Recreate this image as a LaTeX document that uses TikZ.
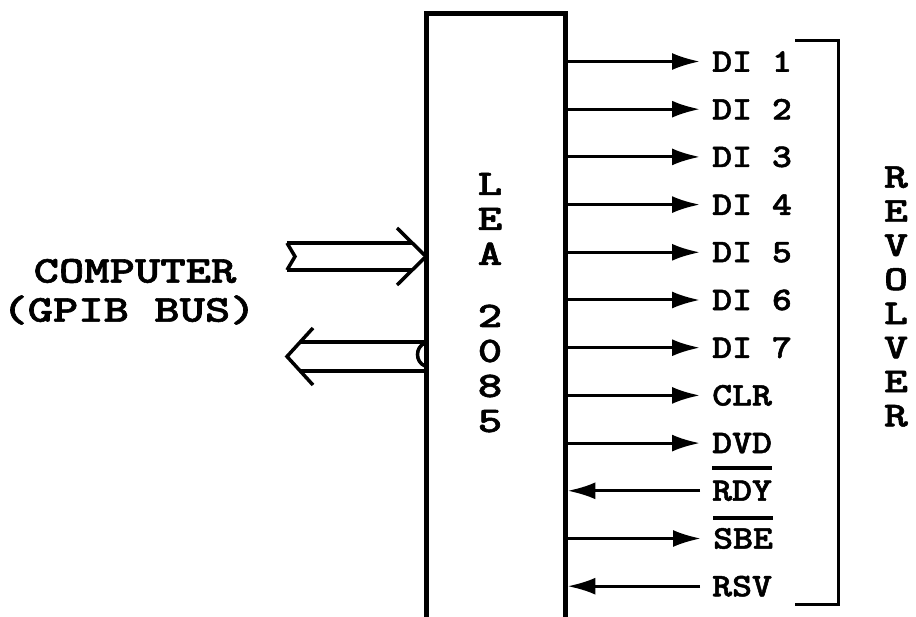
\documentclass[tikz,border=0pt]{standalone}
\usepackage{graphicx}
\usepackage{fontspec}
\newfontfamily\courb{lmmonolt10-bold.otf}[FakeBold=1.4]
\usetikzlibrary{arrows.meta}
\newcommand\stretchtxt[2]{\scalebox{#1}[1]{#2}}
\newcommand\vl[1]{\scalebox{1.3}[1]{#1}}
\begin{document}
\begin{tikzpicture}[x=1pt,y=-1pt,
  sig/.style={line width=3pt},
  tip/.style={-{Latex[length=28pt,width=17pt]}},
  lbl/.style={anchor=west,inner sep=0pt,font=\fontsize{33}{33}\selectfont\courb},
  vlet/.style={inner sep=0pt,align=center,font=\fontsize{36}{35}\selectfont\courb},
  big/.style={inner sep=0pt,font=\fontsize{38}{38}\selectfont\courb},
  bus/.style={line width=3.5pt,line join=miter},
  ovl/.style={line width=4pt}]
\useasboundingbox (0,0) rectangle (916,617);

% main box (open at bottom)
\node[inner sep=0pt,minimum width=139pt,minimum height=603pt,anchor=north west] (box) at (426,14) {};
\draw[line width=5pt] (box.south west) -- (box.north west) -- (box.north east) -- (box.south east);

% vertical text in box
\node[vlet] (lea) at (490,219) {\vl{L}\\\vl{E}\\\vl{A}};
\node[vlet] (num) at (490,368.5) {\vl{2}\\\vl{0}\\\vl{8}\\\vl{5}};

% signal labels
\node[lbl] (d1)  at (712,61.5)  {\stretchtxt{1.15}{DI 1}};
\node[lbl] (d2)  at (712,109.2) {\stretchtxt{1.15}{DI 2}};
\node[lbl] (d3)  at (712,156.9) {\stretchtxt{1.15}{DI 3}};
\node[lbl] (d4)  at (712,204.6) {\stretchtxt{1.15}{DI 4}};
\node[lbl] (d5)  at (712,252.3) {\stretchtxt{1.15}{DI 5}};
\node[lbl] (d6)  at (712,300.0) {\stretchtxt{1.15}{DI 6}};
\node[lbl] (d7)  at (712,347.7) {\stretchtxt{1.15}{DI 7}};
\node[lbl] (clr) at (712,395.4) {\stretchtxt{1.15}{CLR}};
\node[lbl] (dvd) at (712,443.1) {\stretchtxt{1.15}{DVD}};
\node[lbl] (rdy) at (712,490.8) {\stretchtxt{1.15}{RDY}};
\node[lbl] (sbe) at (713,538.5) {\stretchtxt{1.15}{SBE}};
\node[lbl] (rsv) at (712,586.2) {\stretchtxt{1.15}{RSV}};

% outgoing arrows
\foreach \n in {d1,d2,d3,d4,d5,d6,d7,clr,dvd,sbe}
  \draw[sig,tip] (box.east |- \n.west) -- ([xshift=-12pt]\n.west);
% incoming arrows
\foreach \n in {rdy,rsv}
  \draw[sig,tip] ([xshift=-12pt]\n.west) -- ([xshift=2pt]box.east |- \n.west);

% overlines
\draw[ovl] ([yshift=12pt]rdy.north west) -- ([yshift=12pt]rdy.north east);
\draw[ovl] ([yshift=10pt]sbe.north west) -- ([yshift=10pt]sbe.north east);

% revolver bracket
\coordinate (bt) at (795,41);
\coordinate (bb) at (795,604);
\draw[line width=3pt,line join=miter] (bt) -- (838,41) -- (838,604) -- (bb);
\node[vlet,font=\fontsize{35}{34.1}\selectfont\courb] (rev) at (896,296.5)
  {\vl{R}\\\vl{E}\\\vl{V}\\\vl{O}\\\vl{L}\\\vl{V}\\\vl{E}\\\vl{R}};

% computer label
\node[big] (comp) at (135,271) {\stretchtxt{1.27}{COMPUTER}};
\node[big] (gpib) at (129,310) {\stretchtxt{1.27}{(GPIB BUS)}};

% GPIB bus arrows (hollow)
\draw[bus] (287,243) -- (295,256.5) -- (287,270);
\draw[bus] (287,243) -- (412,243);
\draw[bus] (287,270) -- (412,270);
\draw[bus] (397,228) -- (box.west |- 0,256.5) -- (397,285);

\draw[bus] (313,328) -- (287,356.5) -- (313,385);
\draw[bus] (300,342) -- (box.west |- 0,342);
\draw[bus] (300,371) -- (box.west |- 0,371);
\draw[bus] (425,343) .. controls (415,347) and (415,362) .. (425,366);
\end{tikzpicture}
\end{document}
